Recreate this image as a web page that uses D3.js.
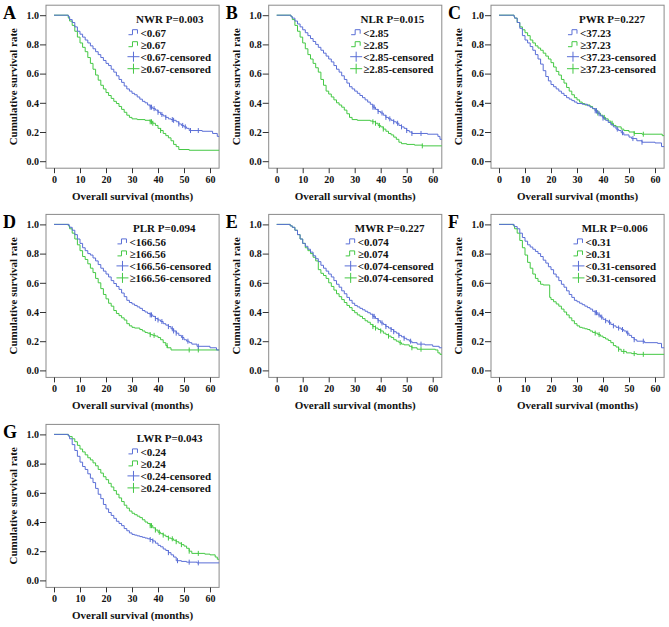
<!DOCTYPE html>
<html><head><meta charset="utf-8">
<script src="https://cdn.jsdelivr.net/npm/d3@7/dist/d3.min.js"></script>
<style>
html,body{margin:0;padding:0;background:#fff;}
text{font-family:"Liberation Serif","Times New Roman",serif;font-weight:bold;}
</style></head>
<body>
<svg id="chart" width="669" height="627"></svg>
<script>
// ---------------- DATA ----------------
const panelLetters = ["A","B","C","D","E","F","G"];
const panelTitles = ["NWR P=0.003","NLR P=0.015","PWR P=0.227","PLR P=0.094","MWR P=0.227","MLR P=0.006","LWR P=0.043"];
const cutoffs = ["0.67","2.85","37.23","166.56","0.074","0.31","0.24"];
const xTicks = [0,10,20,30,40,50,60];
const yTicks = [0.0,0.2,0.4,0.6,0.8,1.0];
const xTitle = "Overall survival (months)";
const yTitle = "Cumulative survival rate";

// Kaplan-Meier steps: [month, survival after step]
const nwrLow = [[0,1],[5.5,0.99],[6,0.97],[7,0.95],[8,0.92],[9,0.89],[10,0.87],[11,0.85],[12,0.83],[13,0.81],[14,0.79],[15,0.77],[16,0.75],[17,0.73],[18,0.71],[19,0.69],[20,0.67],[21,0.655],[22,0.63],[23,0.61],[24,0.585],[25,0.56],[26,0.54],[27,0.515],[28,0.495],[29,0.48],[30,0.465],[31,0.455],[32,0.44],[33,0.425],[34,0.41],[35,0.40],[36,0.385],[37,0.37],[38,0.36],[39,0.35],[40,0.335],[41,0.32],[42,0.31],[43,0.30],[44,0.29],[45,0.285],[46,0.28],[47,0.27],[48,0.255],[49,0.245],[50,0.235],[51,0.225],[52,0.21],[57,0.205],[61,0.19],[62.8,0.17]];
const nwrHigh = [[0,1],[5.5,0.98],[6,0.96],[7,0.93],[8,0.89],[9,0.85],[10,0.81],[11,0.78],[12,0.75],[13,0.71],[14,0.67],[15,0.63],[16,0.59],[17,0.555],[18,0.52],[19,0.495],[20,0.47],[21,0.45],[22,0.43],[23,0.41],[24,0.395],[25,0.375],[26,0.355],[27,0.335],[28,0.315],[29,0.30],[30,0.29],[32,0.285],[35,0.28],[37,0.27],[38,0.26],[39,0.245],[40,0.225],[41,0.21],[42,0.19],[43,0.175],[44,0.16],[45,0.14],[46,0.115],[47,0.10],[48,0.08],[52,0.075]];
const nlrLow = [[0,1],[5.5,0.99],[6,0.98],[7,0.96],[8,0.94],[9,0.92],[10,0.90],[11,0.88],[12,0.86],[13,0.84],[14,0.82],[15,0.80],[16,0.78],[17,0.76],[18,0.74],[19,0.72],[20,0.70],[21,0.68],[22,0.655],[23,0.63],[24,0.61],[25,0.585],[26,0.56],[27,0.535],[28,0.51],[29,0.495],[30,0.48],[31,0.465],[32,0.45],[33,0.435],[34,0.42],[35,0.405],[36,0.39],[37,0.37],[38,0.355],[39,0.34],[40,0.33],[41,0.315],[42,0.30],[43,0.29],[44,0.28],[45,0.27],[46,0.26],[47,0.245],[48,0.235],[49,0.225],[50,0.21],[51,0.20],[52,0.19],[58,0.185],[62,0.17],[62.8,0.15]];
const nlrHigh = [[0,1],[5.5,0.99],[6,0.97],[7,0.93],[8,0.89],[9,0.85],[10,0.81],[11,0.77],[12,0.73],[13,0.70],[14,0.67],[15,0.64],[16,0.61],[17,0.56],[18,0.52],[19,0.48],[20,0.46],[21,0.44],[22,0.42],[23,0.40],[24,0.385],[25,0.37],[26,0.35],[27,0.325],[28,0.30],[29,0.285],[31,0.28],[36,0.275],[37,0.27],[38,0.26],[39,0.245],[40,0.235],[41,0.22],[42,0.205],[43,0.19],[44,0.18],[45,0.165],[46,0.15],[47,0.13],[48,0.12],[50,0.115],[53,0.11],[56,0.105]];
const pwrLow = [[0,1],[5.8,0.99],[6,0.98],[7,0.95],[8,0.91],[9,0.86],[10,0.83],[11,0.81],[12,0.785],[13,0.76],[14,0.73],[15,0.70],[16,0.665],[17,0.62],[18,0.58],[19,0.55],[20,0.525],[21,0.51],[22,0.495],[23,0.48],[24,0.465],[25,0.45],[26,0.435],[27,0.425],[28,0.415],[29,0.405],[30,0.395],[32,0.39],[34,0.38],[35,0.37],[36,0.36],[37,0.345],[38,0.325],[39,0.31],[40,0.295],[41,0.28],[42,0.265],[43,0.25],[44,0.235],[45,0.22],[46,0.21],[47,0.195],[48,0.18],[50,0.165],[51,0.155],[53,0.14],[55,0.13],[60,0.125],[62.5,0.10]];
const pwrHigh = [[0,1],[5.8,0.99],[6,0.98],[7,0.95],[8,0.92],[9,0.90],[10,0.88],[11,0.86],[12,0.83],[13,0.81],[14,0.79],[15,0.775],[16,0.76],[17,0.74],[18,0.72],[19,0.70],[20,0.675],[21,0.645],[22,0.615],[23,0.59],[24,0.56],[25,0.535],[26,0.505],[27,0.48],[28,0.455],[29,0.435],[30,0.42],[31,0.405],[32,0.395],[33,0.385],[35,0.375],[36,0.36],[37,0.345],[38,0.33],[39,0.315],[40,0.30],[41,0.29],[42,0.275],[43,0.26],[44,0.245],[45,0.235],[47,0.22],[48,0.21],[50,0.20],[52,0.19],[55,0.185],[62.8,0.175]];
const plrLow = [[0,1],[5.8,0.99],[6,0.98],[7,0.96],[8,0.93],[9,0.90],[10,0.87],[11,0.84],[12,0.82],[13,0.80],[14,0.79],[15,0.77],[16,0.75],[17,0.725],[18,0.70],[19,0.68],[20,0.66],[21,0.64],[22,0.615],[23,0.595],[24,0.575],[25,0.555],[26,0.53],[27,0.505],[28,0.48],[29,0.465],[30,0.455],[31,0.445],[32,0.435],[33,0.425],[34,0.41],[35,0.40],[36,0.39],[37,0.38],[38,0.37],[39,0.355],[40,0.345],[41,0.335],[42,0.32],[43,0.31],[44,0.30],[45,0.285],[46,0.27],[47,0.255],[48,0.24],[49,0.225],[50,0.21],[51,0.20],[52,0.19],[53,0.18],[55,0.165],[60,0.155],[62.5,0.14]];
const plrHigh = [[0,1],[5.5,0.99],[6,0.97],[7,0.94],[8,0.90],[9,0.86],[10,0.82],[11,0.78],[12,0.76],[13,0.73],[14,0.70],[15,0.67],[16,0.63],[17,0.60],[18,0.56],[19,0.52],[20,0.49],[21,0.46],[22,0.44],[23,0.41],[24,0.39],[25,0.375],[26,0.36],[27,0.345],[28,0.32],[29,0.305],[30,0.295],[31,0.29],[33,0.28],[34,0.27],[35,0.26],[36,0.255],[37,0.245],[38,0.24],[39,0.235],[40,0.225],[41,0.21],[42,0.19],[43,0.17],[43.6,0.155],[45,0.14]];
const mwrLow = [[0,1],[5.2,0.99],[6,0.98],[7,0.96],[8,0.93],[9,0.90],[10,0.87],[11,0.85],[12,0.83],[13,0.81],[14,0.785],[15,0.765],[16,0.745],[17,0.72],[18,0.70],[19,0.68],[20,0.66],[21,0.64],[22,0.615],[23,0.59],[24,0.57],[25,0.545],[26,0.525],[27,0.50],[28,0.48],[29,0.46],[30,0.445],[31,0.435],[32,0.425],[33,0.415],[34,0.405],[35,0.395],[36,0.385],[37,0.37],[38,0.355],[39,0.34],[40,0.325],[41,0.315],[42,0.30],[43,0.29],[44,0.28],[45,0.265],[46,0.255],[47,0.24],[48,0.23],[49,0.22],[50,0.21],[51,0.20],[52,0.19],[54,0.18],[57,0.175],[60,0.165],[62.5,0.155]];
const mwrHigh = [[0,1],[5.2,0.99],[6,0.98],[7,0.96],[8,0.93],[9,0.90],[10,0.87],[11,0.84],[12,0.82],[13,0.80],[14,0.775],[15,0.75],[16,0.69],[17,0.665],[18,0.65],[19,0.63],[20,0.60],[21,0.575],[22,0.55],[23,0.525],[24,0.505],[25,0.485],[26,0.465],[27,0.445],[28,0.43],[29,0.41],[30,0.395],[31,0.38],[32,0.37],[33,0.355],[34,0.34],[35,0.33],[36,0.315],[37,0.30],[38,0.29],[39,0.28],[40,0.27],[41,0.255],[42,0.245],[43,0.235],[44,0.225],[45,0.21],[46,0.20],[47,0.19],[48,0.18],[49,0.175],[51,0.165],[52,0.155],[54,0.145],[61,0.14],[62,0.12],[62.8,0.11]];
const mlrLow = [[0,1],[5.8,0.99],[6,0.985],[7,0.97],[8,0.94],[9,0.91],[10,0.885],[11,0.86],[12,0.845],[13,0.83],[14,0.815],[15,0.80],[16,0.78],[17,0.755],[18,0.735],[19,0.71],[20,0.69],[21,0.66],[22,0.64],[23,0.615],[24,0.59],[25,0.57],[26,0.545],[27,0.52],[28,0.50],[29,0.48],[30,0.47],[31,0.46],[32,0.45],[33,0.44],[34,0.43],[35,0.42],[36,0.405],[37,0.395],[38,0.38],[39,0.365],[40,0.35],[41,0.34],[42,0.33],[43,0.315],[44,0.305],[45,0.295],[46,0.29],[47,0.28],[48,0.27],[49,0.255],[50,0.24],[51,0.225],[52,0.21],[53,0.20],[56,0.19],[61,0.185],[62.5,0.155]];
const mlrHigh = [[0,1],[5.5,0.99],[6,0.97],[7,0.94],[8,0.89],[9,0.84],[10,0.79],[11,0.74],[12,0.70],[13,0.66],[14,0.63],[15,0.61],[16,0.59],[17,0.585],[19.5,0.50],[20,0.485],[21,0.47],[22,0.455],[23,0.44],[24,0.42],[25,0.40],[26,0.38],[27,0.36],[28,0.34],[29,0.32],[30,0.305],[31,0.295],[32,0.29],[33,0.285],[34,0.28],[35,0.27],[36,0.26],[37,0.255],[38,0.245],[39,0.235],[40,0.225],[41,0.215],[42,0.205],[43,0.19],[44,0.17],[45,0.16],[46,0.145],[47,0.13],[49,0.12],[51,0.115],[53,0.11]];
const lwrLow = [[0,1],[5.5,0.99],[6,0.97],[7,0.93],[8,0.89],[9,0.85],[10,0.81],[11,0.78],[12,0.76],[13,0.73],[14,0.70],[15,0.67],[16,0.63],[17,0.59],[18,0.56],[19,0.52],[20,0.49],[21,0.465],[22,0.445],[23,0.425],[24,0.405],[25,0.39],[26,0.375],[27,0.355],[28,0.34],[29,0.325],[30,0.315],[31,0.31],[32,0.305],[33,0.30],[34,0.295],[35,0.29],[36,0.285],[37,0.28],[38,0.27],[39,0.255],[40,0.24],[41,0.23],[42,0.215],[43,0.205],[44,0.19],[45,0.175],[46,0.16],[47,0.135],[49,0.13],[51,0.125],[55,0.12]];
const lwrHigh = [[0,1],[5.5,0.99],[6,0.985],[7,0.97],[8,0.95],[9,0.925],[10,0.90],[11,0.88],[12,0.86],[13,0.84],[14,0.825],[15,0.805],[16,0.785],[17,0.76],[18,0.735],[19,0.71],[20,0.69],[21,0.665],[22,0.64],[23,0.615],[24,0.59],[25,0.565],[26,0.54],[27,0.515],[28,0.495],[29,0.475],[30,0.46],[31,0.45],[32,0.44],[33,0.43],[34,0.415],[35,0.40],[36,0.39],[37,0.375],[38,0.36],[39,0.345],[40,0.33],[41,0.32],[42,0.31],[43,0.30],[44,0.29],[45,0.285],[46,0.275],[47,0.265],[48,0.255],[49,0.245],[50,0.235],[51,0.22],[52,0.20],[53,0.185],[58,0.18],[60,0.175],[62,0.16],[62.8,0.145]];

// censored times (months)
const nwrLowCens = [37,37.5,38.5,40,41.5,43,45.5,46,48,49.5,50.5,52.5,55.5];
const nwrHighCens = [37,37.5,38,41];
const nlrLowCens = [37,37.5,39,40.5,42,43.5,45,46.5,48,50,52,55.5];
const nlrHighCens = [37,38,39.5,41,56];
const pwrLowCens = [37,37.5,38.5,40,45.5,47.5,51.5,55];
const pwrHighCens = [37.5,38,40.5,43.5,52,55.5];
const plrLowCens = [37,37.5,39,40,41.5,44,45.5,46,47,49.5,51.5,55.5];
const plrHighCens = [37,38.5,43.5,52,55.5];
const mwrLowCens = [37,37.5,39,40.5,42,44,45,47,49,51.5,55.5];
const mwrHighCens = [37,38,40,43,47.5,52,55.5];
const mlrLowCens = [37,37.5,38.5,39.5,41,42.5,44,46,47.5,49.5,52,55.5];
const mlrHighCens = [37,38.5,46,48,52,55.5];
const lwrLowCens = [37,38,44,47.5,52,55.5];
const lwrHighCens = [37,37.5,39,40.5,42,44,45.5,47,49,52,55.5];

const lowCurves = [nwrLow,nlrLow,pwrLow,plrLow,mwrLow,mlrLow,lwrLow];
const highCurves = [nwrHigh,nlrHigh,pwrHigh,plrHigh,mwrHigh,mlrHigh,lwrHigh];
const lowCens = [nwrLowCens,nlrLowCens,pwrLowCens,plrLowCens,mwrLowCens,mlrLowCens,lwrLowCens];
const highCens = [nwrHighCens,nlrHighCens,pwrHighCens,plrHighCens,mwrHighCens,mlrHighCens,lwrHighCens];

// ---------------- LAYOUT ----------------
const BLUE = "#5a6ed6", GREEN = "#44c844";
const colX0 = [54, 276.7, 499];
const rowY1 = [15.2, 224.4, 434.4];
const X_MAX = 63.5;
const svg = d3.select("#chart");
svg.append("rect").attr("width",669).attr("height",627).attr("fill","#fff");

function survAt(curve, t){
  let s = 1;
  for (const [m,v] of curve){ if (m <= t) s = v; else break; }
  return s;
}

panelLetters.forEach((letter, i) => {
  const col = i % 3, row = Math.floor(i / 3);
  const x0 = colX0[col], y1 = rowY1[row];
  const x = d3.scaleLinear().domain([0,60]).range([x0, x0+156]);
  const y = d3.scaleLinear().domain([0,1]).range([y1+146, y1]);
  const boxL = x0-8, boxR = x(X_MAX), boxT = y1-10, boxB = y1+153;
  const g = svg.append("g");

  // frame
  g.append("rect").attr("x",boxL).attr("y",boxT).attr("width",boxR-boxL).attr("height",boxB-boxT)
    .attr("fill","none").attr("stroke","#8a8a8a").attr("stroke-width",1);

  // x axis
  const xa = g.append("g").attr("transform",`translate(0,${boxB})`)
    .call(d3.axisBottom(x).tickValues(xTicks).tickSize(5).tickPadding(3).tickFormat(d3.format("d")));
  xa.select(".domain").remove();
  xa.selectAll("line").attr("stroke","#333");
  xa.selectAll("text").attr("font-size",10).attr("fill","#111")
    .style("font-family","'Liberation Serif',serif").style("font-weight","bold");

  // y axis
  const ya = g.append("g").attr("transform",`translate(${boxL},0)`)
    .call(d3.axisLeft(y).tickValues(yTicks).tickSize(6).tickPadding(1).tickFormat(d3.format(".1f")));
  ya.select(".domain").remove();
  ya.selectAll("line").attr("stroke","#333");
  ya.selectAll("text").attr("font-size",10).attr("fill","#111")
    .style("font-family","'Liberation Serif',serif").style("font-weight","bold");

  // axis titles
  g.append("text").attr("x",(boxL+boxR)/2).attr("y",boxB+32).attr("text-anchor","middle")
    .attr("font-size",11).attr("fill","#111").text(xTitle);
  g.append("text").attr("transform",`translate(${boxL-29},${(boxT+boxB)/2}) rotate(-90)`)
    .attr("text-anchor","middle").attr("font-size",11).attr("fill","#111").text(yTitle);

  // panel letter
  g.append("text").attr("x",x0-51).attr("y",y1+3.5).attr("font-size",18).attr("fill","#000").text(letter);

  // curves
  const line = d3.line().x(d=>x(d[0])).y(d=>y(d[1])).curve(d3.curveStepAfter);
  const series = [
    {curve: lowCurves[i], cens: lowCens[i], color: BLUE},
    {curve: highCurves[i], cens: highCens[i], color: GREEN}
  ];
  // draw green first then blue? draw in order low then high
  series.slice().reverse().forEach(s => {
    const pts = s.curve.concat([[X_MAX, s.curve[s.curve.length-1][1]]]);
    g.append("path").attr("d", line(pts)).attr("fill","none").attr("stroke",s.color).attr("stroke-width",1);
    g.selectAll(null).data(s.cens).enter().append("line")
      .attr("x1",d=>x(d)).attr("x2",d=>x(d))
      .attr("y1",d=>y(survAt(s.curve,d))-2.5).attr("y2",d=>y(survAt(s.curve,d))+2.5)
      .attr("stroke",s.color).attr("stroke-width",1);
  });

  // legend
  const cut = cutoffs[i];
  const labels = ["<"+cut, "\u2265"+cut, "<"+cut+"-censored", "\u2265"+cut+"-censored"];
  const colors = [BLUE, GREEN, BLUE, GREEN];
  const lg = g.append("g");
  const txts = labels.map((t,k) => lg.append("text").attr("font-size",11).attr("fill","#111")
      .attr("y", y1+17.5+12*k+3.8).text(t));
  const maxW = d3.max(txts, t => t.node().getComputedTextLength());
  const R = x0 + 157;
  const textX = R - maxW;
  txts.forEach(t => t.attr("x", textX));
  labels.forEach((t,k) => {
    const cy = y1+17.5+12*k;
    const sx = textX - 12;
    if (k < 2) {
      lg.append("path").attr("d",`M${sx},${cy+2}H${sx+4}V${cy-3}H${sx+9}V${cy+1}`)
        .attr("fill","none").attr("stroke",colors[k]).attr("stroke-width",1);
    } else {
      lg.append("path").attr("d",`M${sx-1},${cy}H${sx+11}M${sx+5},${cy-5}V${cy+5}`)
        .attr("fill","none").attr("stroke",colors[k]).attr("stroke-width",1);
    }
  });
  lg.append("text").attr("x",(textX-12+R)/2).attr("y",y1+7.5).attr("text-anchor","middle")
    .attr("font-size",11).attr("fill","#111").text(panelTitles[i]);
});
</script>
</body></html>
